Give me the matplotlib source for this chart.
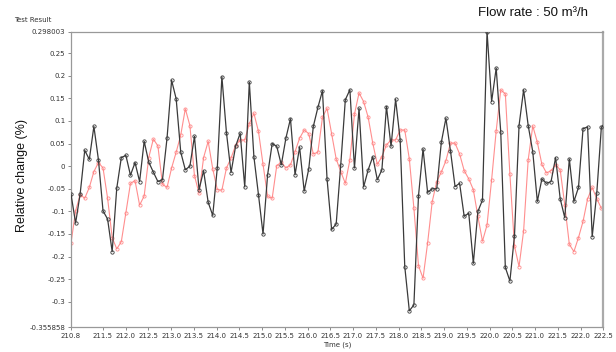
import numpy as np
import matplotlib
matplotlib.use("Agg")
import matplotlib.pyplot as plt
from matplotlib.ticker import FixedLocator, FixedFormatter

# sample times: first sample at 210.8 s, one sample every ~0.1 s
t_start = 210.8
t_step = 0.1005

black_vals = [
    -0.062, -0.126, -0.061, 0.035, 0.015, 0.088, 0.014, -0.099, -0.117, -0.189,
    -0.049, 0.019, 0.024, -0.020, 0.008, -0.034, 0.055, 0.009, -0.013, -0.034,
    -0.030, 0.062, 0.190, 0.149, 0.031, -0.008, 0.000, 0.066, -0.052, -0.010,
    -0.080, -0.109, -0.003, 0.198, 0.074, -0.014, 0.044, 0.073, -0.046, 0.186,
    0.021, -0.063, -0.150, -0.019, 0.050, 0.044, 0.003, 0.062, 0.105, -0.019,
    0.042, -0.055, -0.006, 0.088, 0.130, 0.167, -0.028, -0.140, -0.128, 0.003,
    0.147, 0.169, -0.004, 0.128, -0.046, -0.008, 0.021, -0.030, -0.008, 0.132,
    0.044, 0.148, 0.058, -0.222, -0.320, -0.307, -0.066, 0.038, -0.058, -0.050,
    -0.050, 0.053, 0.106, 0.034, -0.045, -0.038, -0.111, -0.104, -0.215, -0.100,
    -0.075, 0.298003, 0.143, 0.217, 0.075, -0.224, -0.254, -0.154, 0.090, 0.169,
    0.090, 0.032, -0.078, -0.028, -0.038, -0.034, 0.019, -0.072, -0.114, 0.016,
    -0.078, -0.047, 0.083, 0.087, -0.156, -0.060, 0.086, 0.098,
]

red_vals = [
    -0.170, -0.099, -0.063, -0.071, -0.047, -0.012, 0.008, -0.004, -0.071, -0.158,
    -0.183, -0.167, -0.103, -0.038, -0.032, -0.086, -0.066, 0.019, 0.060, 0.045,
    -0.040, -0.047, -0.004, 0.031, 0.069, 0.127, 0.090, -0.021, -0.060, 0.019,
    0.055, -0.006, -0.052, -0.053, -0.004, 0.018, 0.046, 0.058, 0.058, 0.094,
    0.117, 0.077, 0.004, -0.067, -0.071, 0.001, 0.009, -0.004, 0.003, 0.032,
    0.062, 0.080, 0.072, 0.027, 0.031, 0.108, 0.128, 0.072, 0.016, -0.012,
    -0.038, 0.014, 0.115, 0.162, 0.143, 0.108, 0.051, 0.004, 0.021, 0.047,
    0.058, 0.058, 0.080, 0.080, 0.016, -0.093, -0.220, -0.248, -0.170, -0.079,
    -0.034, -0.013, 0.012, 0.051, 0.051, 0.027, -0.010, -0.028, -0.052, -0.111,
    -0.166, -0.130, -0.030, 0.078, 0.169, 0.160, -0.018, -0.177, -0.222, -0.143,
    0.014, 0.089, 0.053, 0.004, -0.015, -0.010, 0.003, -0.008, -0.086, -0.173,
    -0.189, -0.158, -0.122, -0.072, -0.047, -0.072, -0.093, -0.100,
]

x_ticks = [210.8, 211.5, 212.0, 212.5, 213.0, 213.5, 214.0, 214.5, 215.0, 215.5,
           216.0, 216.5, 217.0, 217.5, 218.0, 218.5, 219.0, 219.5, 220.0, 220.5,
           221.0, 221.5, 222.0, 222.5]
y_ticks = [0.298003, 0.25, 0.2, 0.15, 0.1, 0.05, 0, -0.05, -0.1, -0.15, -0.2,
           -0.25, -0.3, -0.355858]
y_tick_labels = ["0.298003", "0.25", "0.2", "0.15", "0.1", "0.05", "0", "-0.05",
                 "-0.1", "-0.15", "-0.2", "-0.25", "-0.3", "-0.355858"]

times = t_start + t_step * np.arange(len(black_vals))

fig = plt.figure(figsize=(6.16, 3.52), dpi=100)
ax = fig.add_axes([0.1153, 0.071, 0.864, 0.8395])

ax.plot(times, red_vals, color="#ff7b7b", linewidth=0.8, marker="o", markersize=2.3,
        markerfacecolor="none", markeredgewidth=0.6, alpha=0.85, zorder=2)
ax.plot(times, black_vals, color="#3a3a3a", linewidth=0.9, marker="o", markersize=2.4,
        markerfacecolor="none", markeredgewidth=0.6, zorder=3)

ax.set_xlim(210.8, 222.5)
ax.set_ylim(-0.355858, 0.298003)
ax.xaxis.set_major_locator(FixedLocator(x_ticks))
ax.xaxis.set_major_formatter(FixedFormatter(["%.1f" % v for v in x_ticks]))
ax.yaxis.set_major_locator(FixedLocator(y_ticks))
ax.yaxis.set_major_formatter(FixedFormatter(y_tick_labels))
ax.tick_params(axis="both", labelsize=5, length=2.5, width=0.6, color="#777777",
               labelcolor="#333333", pad=1.5)
ax.tick_params(top=False, right=False)
for side, sp in ax.spines.items():
    sp.set_color("#999999")
    sp.set_linewidth(0.9)
ax.spines["right"].set_linewidth(1.6)
ax.spines["right"].set_color("#aaaaaa")

ax.set_xlabel("Time (s)", fontsize=5, color="#333333", labelpad=2)
fig.text(0.036, 0.5, "Relative change (%)", rotation=90, ha="center", va="center",
         fontsize=9, family="Liberation Sans", color="#111111")
fig.text(0.023, 0.943, "Test Result", fontsize=5, color="#333333", va="center")
fig.text(0.955, 0.962, "Flow rate : 50 m\u00b3/h", fontsize=9.5, family="Liberation Sans",
         ha="right", va="center", color="#111111")

fig.savefig("out.png", dpi=100)
